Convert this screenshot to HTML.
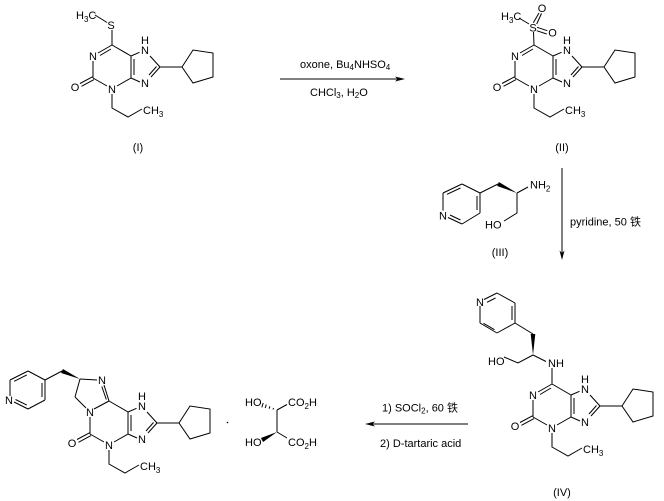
<!DOCTYPE html>
<html>
<head>
<meta charset="utf-8">
<style>
html,body{margin:0;padding:0;background:#fff;}
svg{display:block;}
text{font-family:"Liberation Sans","Noto Sans CJK SC",sans-serif;font-size:11px;fill:#000;}
.c{text-anchor:middle;}
line,polyline,polygon.o{stroke:#000;stroke-width:1;fill:none;}
</style>
</head>
<body>
<svg width="664" height="501" viewBox="0 0 664 501" xmlns="http://www.w3.org/2000/svg">
<rect width="664" height="501" fill="#fff"/>

<!-- ===== Compound I ===== -->
<g>
  <line x1="93" y1="61" x2="93" y2="78"/>
  <line x1="92.5" y1="76.8" x2="80" y2="83.5"/>
  <line x1="94" y1="79.6" x2="81.5" y2="86.3"/>
  <line x1="93" y1="78" x2="107" y2="86"/>
  <line x1="117" y1="86" x2="131" y2="78"/>
  <line x1="131" y1="78" x2="131" y2="56"/>
  <line x1="134" y1="75" x2="134" y2="59"/>
  <line x1="131" y1="56" x2="112" y2="45"/>
  <line x1="131" y1="56" x2="139.5" y2="52.3"/>
  <line x1="150" y1="56" x2="160" y2="67"/>
  <line x1="160" y1="67" x2="151" y2="77"/>
  <line x1="156.5" y1="66.5" x2="149" y2="75"/>
  <line x1="140" y1="82" x2="131" y2="78"/>
  <line x1="160" y1="67" x2="182" y2="67"/>
  <polygon class="o" points="182,67 193,50 213,53 213,77 193,83"/>
  <polyline points="112,94 112,108 128,117 142,109"/>
  <text class="c" x="93" y="60">N</text>
  <text class="c" x="75" y="91">O</text>
  <text class="c" x="112" y="93">N</text>
  <text class="c" x="145" y="54">N</text>
  <text class="c" x="145" y="44">H</text>
  <text class="c" x="145" y="87">N</text>
  <text x="143" y="114">CH<tspan font-size="8" dy="3">3</tspan></text>
  <!-- C6=N1 -->
  <line x1="112" y1="45" x2="98" y2="53"/>
  <line x1="111" y1="49" x2="100" y2="55.5"/>
</g>
<!-- SMe -->
<line x1="112" y1="30" x2="112" y2="45"/>
<line x1="95" y1="15" x2="107" y2="22.5"/>
<text class="c" x="111" y="29">S</text>
<text x="76" y="19">H<tspan font-size="8" dy="3">3</tspan><tspan dy="-3">C</tspan></text>
<text class="c" x="138" y="151">(I)</text>

<!-- ===== Arrow 1 ===== -->
<line x1="280" y1="79" x2="398" y2="79"/>
<polygon points="405,79 395,76.5 397.5,79 395,81.5" fill="#000"/>
<text x="300" y="68">oxone, Bu<tspan font-size="8" dy="2">4</tspan><tspan dy="-2">NHSO</tspan><tspan font-size="8" dy="2">4</tspan></text>
<text x="310" y="96">CHCl<tspan font-size="8" dy="2">3</tspan><tspan dy="-2">, H</tspan><tspan font-size="8" dy="2">2</tspan><tspan dy="-2">O</tspan></text>

<!-- ===== Compound II ===== -->
<g transform="translate(422,0)">
  <line x1="93" y1="61" x2="93" y2="78"/>
  <line x1="92.5" y1="76.8" x2="80" y2="83.5"/>
  <line x1="94" y1="79.6" x2="81.5" y2="86.3"/>
  <line x1="93" y1="78" x2="107" y2="86"/>
  <line x1="117" y1="86" x2="131" y2="78"/>
  <line x1="131" y1="78" x2="131" y2="56"/>
  <line x1="134" y1="75" x2="134" y2="59"/>
  <line x1="131" y1="56" x2="112" y2="45"/>
  <line x1="131" y1="56" x2="139.5" y2="52.3"/>
  <line x1="150" y1="56" x2="160" y2="67"/>
  <line x1="160" y1="67" x2="151" y2="77"/>
  <line x1="156.5" y1="66.5" x2="149" y2="75"/>
  <line x1="140" y1="82" x2="131" y2="78"/>
  <line x1="160" y1="67" x2="182" y2="67"/>
  <polygon class="o" points="182,67 193,50 213,53 213,77 193,83"/>
  <polyline points="112,94 112,108 128,117 142,109"/>
  <text class="c" x="93" y="60">N</text>
  <text class="c" x="75" y="91">O</text>
  <text class="c" x="112" y="93">N</text>
  <text class="c" x="145" y="54">N</text>
  <text class="c" x="145" y="44">H</text>
  <text class="c" x="145" y="87">N</text>
  <text x="143" y="114">CH<tspan font-size="8" dy="3">3</tspan></text>
  <line x1="112" y1="45" x2="98" y2="53"/>
  <line x1="111" y1="49" x2="100" y2="55.5"/>
</g>
<!-- SO2Me -->
<line x1="533.5" y1="32" x2="534" y2="45"/>
<line x1="519" y1="18" x2="529" y2="24"/>
<line x1="533.3" y1="22.7" x2="539" y2="13"/>
<line x1="536.7" y1="24" x2="541.5" y2="13.5"/>
<line x1="537" y1="27.3" x2="547.3" y2="30.7"/>
<line x1="536.7" y1="30.7" x2="546.7" y2="34"/>
<text class="c" x="533" y="31.5">S</text>
<text class="c" x="542" y="12">O</text>
<text class="c" x="552.5" y="36.5">O</text>
<text x="501" y="20">H<tspan font-size="8" dy="3">3</tspan><tspan dy="-3">C</tspan></text>
<text class="c" x="562" y="151">(II)</text>

<!-- ===== Vertical arrow ===== -->
<line x1="562" y1="168" x2="562" y2="254"/>
<polygon points="562,260 559.5,250.5 562,253 564.5,250.5" fill="#000"/>
<text x="570" y="225.5">pyridine, 50 <tspan font-family="Noto Sans CJK SC, sans-serif">铁</tspan></text>

<!-- ===== Compound III ===== -->
<line x1="443" y1="193" x2="462" y2="184"/>
<line x1="447" y1="194.3" x2="460.5" y2="188"/>
<line x1="462" y1="184" x2="480" y2="193"/>
<line x1="480" y1="193" x2="480" y2="213"/>
<line x1="477" y1="196" x2="477" y2="210"/>
<line x1="480" y1="213" x2="462" y2="224"/>
<line x1="462" y1="224" x2="448" y2="217.5"/>
<line x1="460.5" y1="220" x2="450" y2="215"/>
<line x1="443" y1="210.5" x2="443" y2="193"/>
<text class="c" x="443" y="219.5">N</text>
<line x1="480" y1="193" x2="498" y2="184"/>
<polygon points="517,193 498.9,182 497.1,186" fill="#000"/>
<line x1="517" y1="193" x2="528" y2="187"/>
<text x="530" y="188.5">NH<tspan font-size="8" dy="3">2</tspan></text>
<polyline points="517,193 517,213 504,221"/>
<text x="485" y="228.5">HO</text>
<text class="c" x="500" y="256">(III)</text>

<!-- ===== Compound IV ===== -->
<g transform="translate(440,339)">
  <line x1="93" y1="61" x2="93" y2="78"/>
  <line x1="92.5" y1="76.8" x2="80" y2="83.5"/>
  <line x1="94" y1="79.6" x2="81.5" y2="86.3"/>
  <line x1="93" y1="78" x2="107" y2="86"/>
  <line x1="117" y1="86" x2="131" y2="78"/>
  <line x1="131" y1="78" x2="131" y2="56"/>
  <line x1="134" y1="75" x2="134" y2="59"/>
  <line x1="131" y1="56" x2="112" y2="45"/>
  <line x1="131" y1="56" x2="139.5" y2="52.3"/>
  <line x1="150" y1="56" x2="160" y2="67"/>
  <line x1="160" y1="67" x2="151" y2="77"/>
  <line x1="156.5" y1="66.5" x2="149" y2="75"/>
  <line x1="140" y1="82" x2="131" y2="78"/>
  <line x1="160" y1="67" x2="182" y2="67"/>
  <polygon class="o" points="182,67 193,50 213,53 213,77 193,83"/>
  <polyline points="112,94 112,108 128,117 142,109"/>
  <text class="c" x="93" y="60">N</text>
  <text class="c" x="75" y="91">O</text>
  <text class="c" x="112" y="93">N</text>
  <text class="c" x="145" y="54">N</text>
  <text class="c" x="145" y="44">H</text>
  <text class="c" x="145" y="87">N</text>
  <text x="143" y="114">CH<tspan font-size="8" dy="3">3</tspan></text>
  <line x1="112" y1="45" x2="98" y2="53"/>
  <line x1="111" y1="49" x2="100" y2="55.5"/>
</g>
<line x1="552" y1="368" x2="552" y2="384"/>
<text x="548" y="367">NH</text>
<line x1="533" y1="355" x2="546" y2="361.5"/>
<polygon points="533,355 530.7,334 535.3,334" fill="#000"/>
<polyline points="533,355 518,363 504,357"/>
<text x="488" y="365">HO</text>
<line x1="533" y1="334" x2="515" y2="323"/>
<!-- pyridine IV -->
<line x1="484" y1="299.5" x2="497" y2="293"/>
<line x1="487" y1="302.3" x2="495.5" y2="298"/>
<line x1="497" y1="293" x2="515" y2="303"/>
<line x1="515" y1="303" x2="515" y2="323"/>
<line x1="512" y1="306" x2="512" y2="320"/>
<line x1="515" y1="323" x2="497" y2="333"/>
<line x1="497" y1="333" x2="480" y2="323"/>
<line x1="494.5" y1="329.7" x2="483.5" y2="323.3"/>
<line x1="480" y1="323" x2="480" y2="306"/>
<text class="c" x="480" y="306">N</text>
<text class="c" x="562" y="496">(IV)</text>

<!-- ===== Arrow 3 ===== -->
<line x1="468" y1="424" x2="372" y2="424"/>
<polygon points="365,424 375,421.5 372.5,424 375,426.5" fill="#000"/>
<text x="382" y="411.5">1) SOCl<tspan font-size="8" dy="2">2</tspan><tspan dy="-2">, 60 </tspan><tspan font-family="Noto Sans CJK SC, sans-serif">铁</tspan></text>
<text x="380" y="447">2) D-tartaric acid</text>

<!-- ===== Tartaric acid ===== -->
<line x1="277" y1="410" x2="277" y2="432"/>
<line x1="277" y1="410" x2="287" y2="404.5"/>
<line x1="277" y1="432" x2="287" y2="438"/>
<line x1="273.5" y1="408" x2="273" y2="409.5"/>
<line x1="269.9" y1="406.3" x2="269.1" y2="408.7"/>
<line x1="266.3" y1="404.5" x2="265.2" y2="408"/>
<line x1="263.2" y1="403" x2="261.8" y2="407.4"/>
<polygon points="277,432 263.1,442 260.9,438" fill="#000"/>
<text x="245" y="406">HO</text>
<text x="245" y="446">HO</text>
<text x="288" y="406">CO<tspan font-size="8" dy="3">2</tspan><tspan dy="-3">H</tspan></text>
<text x="288" y="446">CO<tspan font-size="8" dy="3">2</tspan><tspan dy="-3">H</tspan></text>
<circle cx="227.5" cy="422.5" r="0.8" fill="#000"/>

<!-- ===== Compound V ===== -->
<g transform="translate(-3,356)">
  <line x1="93" y1="61" x2="93" y2="78"/>
  <line x1="92.5" y1="76.8" x2="80" y2="83.5"/>
  <line x1="94" y1="79.6" x2="81.5" y2="86.3"/>
  <line x1="93" y1="78" x2="107" y2="86"/>
  <line x1="117" y1="86" x2="131" y2="78"/>
  <line x1="131" y1="78" x2="131" y2="56"/>
  <line x1="134" y1="75" x2="134" y2="59"/>
  <line x1="131" y1="56" x2="112" y2="45"/>
  <line x1="131" y1="56" x2="139.5" y2="52.3"/>
  <line x1="150" y1="56" x2="160" y2="67"/>
  <line x1="160" y1="67" x2="151" y2="77"/>
  <line x1="156.5" y1="66.5" x2="149" y2="75"/>
  <line x1="140" y1="82" x2="131" y2="78"/>
  <line x1="160" y1="67" x2="182" y2="67"/>
  <polygon class="o" points="182,67 193,50 213,53 213,77 193,83"/>
  <polyline points="112,94 112,108 128,117 142,109"/>
  <text class="c" x="93" y="60">N</text>
  <text class="c" x="75" y="91">O</text>
  <text class="c" x="112" y="93">N</text>
  <text class="c" x="145" y="54">N</text>
  <text class="c" x="145" y="44">H</text>
  <text class="c" x="145" y="87">N</text>
  <text x="143" y="114">CH<tspan font-size="8" dy="3">3</tspan></text>
  <!-- N1-C6 single -->
  <line x1="97" y1="53" x2="112" y2="45"/>
</g>
<!-- imidazoline ring -->
<line x1="109" y1="401" x2="104" y2="385"/>
<line x1="106.3" y1="399.5" x2="101.8" y2="386.5"/>
<text class="c" x="102" y="384">N</text>
<line x1="80" y1="379" x2="97" y2="380"/>
<line x1="80" y1="379" x2="75" y2="397"/>
<line x1="75" y1="397" x2="86" y2="408"/>
<polygon points="80,379 62.9,369 61.1,373" fill="#000"/>
<line x1="62" y1="371" x2="45" y2="380"/>
<!-- pyridine V -->
<line x1="10" y1="380" x2="28" y2="371"/>
<line x1="14.2" y1="381.3" x2="26.8" y2="374.9"/>
<line x1="28" y1="371" x2="45" y2="380"/>
<line x1="45" y1="380" x2="45" y2="400"/>
<line x1="42" y1="383" x2="42" y2="397"/>
<line x1="45" y1="400" x2="28" y2="409"/>
<line x1="28" y1="409" x2="14" y2="402"/>
<line x1="26.8" y1="405.1" x2="15.5" y2="399.5"/>
<line x1="10" y1="396" x2="10" y2="380"/>
<text class="c" x="9" y="404">N</text>

</svg>
</body>
</html>
